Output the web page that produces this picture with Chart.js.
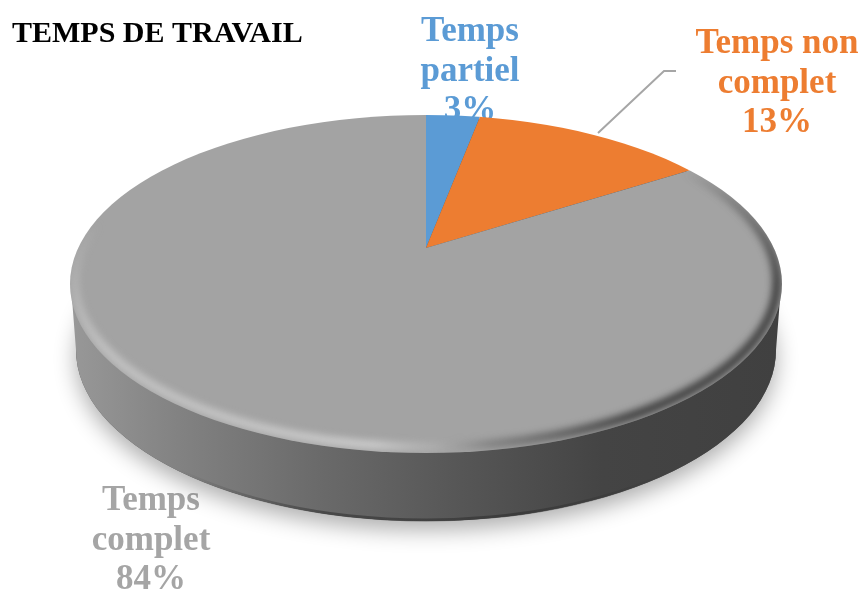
<!DOCTYPE html>
<html>
<head>
<meta charset="utf-8">
<style>
    html, body { margin: 0; padding: 0; background: #fff; }
    #wrap { width: 865px; height: 591px; overflow: hidden; }
</style>
</head>
<body>
<div id="wrap"><canvas id="pieChart" width="865" height="591"></canvas></div>
<script src="https://cdn.jsdelivr.net/npm/chart.js@4"></script>
<script>
// ======================
// DATA
// ======================
const chartTitle = "TEMPS DE TRAVAIL";
const categories = ["Temps partiel", "Temps non complet", "Temps complet"];
const values = [3, 13, 84];
const sliceColors = ["#5b9bd5", "#ed7d31", "#a3a3a3"];
const labelLines = [["Temps", "partiel"], ["Temps non", "complet"], ["Temps", "complet"]];
const labelColors = ["#5b9bd5", "#ed7d31", "#a5a5a5"];


// ======================
// 3D GEOMETRY
// ======================
const APEX_X = 426, APEX_Y = 248;
const PIE_RADIUS = 248;               // radius chart.js gets from the padding below
const SCALE_X = 453 / PIE_RADIUS;
const SCALE_Y = 210 / PIE_RADIUS;

const face = { x: 426, y: 284, rx: 356, ry: 169 };
const base = { x: 426, y: 350, rx: 350, ry: 171 };

const labelSpots = [
    { x: 470, y: 41 },
    { x: 777, y: 53 },
    { x: 151, y: 510 }
];
const LINE_GAP = 39.5;

function ellipsePath(ctx, e) {
    ctx.beginPath();
    ctx.ellipse(e.x, e.y, e.rx, e.ry, 0, 0, Math.PI * 2);
}

function drawTexts(ctx) {
    ctx.save();
    ctx.textBaseline = "alphabetic";

    ctx.fillStyle = "#000";
    ctx.textAlign = "left";
    ctx.font = "bold 30px 'Liberation Serif'";
    ctx.fillText(chartTitle, 12, 42);

    ctx.font = "bold 35px 'Liberation Serif'";
    ctx.textAlign = "center";
    categories.forEach((name, i) => {
        const lines = labelLines[i].concat(values[i] + "%");
        ctx.fillStyle = labelColors[i];
        lines.forEach((line, j) => {
            ctx.fillText(line, labelSpots[i].x, labelSpots[i].y + j * LINE_GAP);
        });
    });
    ctx.restore();

    // leader line of the orange label
    ctx.save();
    ctx.strokeStyle = "#a6a6a6";
    ctx.lineWidth = 2;
    ctx.beginPath();
    ctx.moveTo(598, 133);
    ctx.lineTo(664, 71);
    ctx.lineTo(676, 71);
    ctx.stroke();
    ctx.restore();
}

function drawSide(ctx) {
    // soft shadow under the disc
    ctx.save();
    ctx.shadowColor = "rgba(0,0,0,0.32)";
    ctx.shadowBlur = 22;
    ctx.shadowOffsetY = 9;
    ctx.fillStyle = "#555";
    ellipsePath(ctx, base);
    ctx.fill();
    ctx.restore();

    const grad = ctx.createLinearGradient(72, 0, 780, 0);
    grad.addColorStop(0, "#989898");
    grad.addColorStop(0.15, "#828282");
    grad.addColorStop(0.35, "#6a6a6a");
    grad.addColorStop(0.55, "#565656");
    grad.addColorStop(0.75, "#444444");
    grad.addColorStop(1, "#404040");

    ctx.save();
    ctx.fillStyle = grad;
    ctx.beginPath();
    ctx.ellipse(face.x, face.y + 2, face.rx - 1, face.ry, 0, Math.PI, Math.PI * 2);
    ctx.ellipse(base.x, base.y, base.rx, base.ry, 0, 0, Math.PI);
    ctx.closePath();
    ctx.fill();

    // darker lip at the foot of the side, only near the middle
    const lip = ctx.createLinearGradient(180, 0, 670, 0);
    lip.addColorStop(0, "rgba(40,40,40,0)");
    lip.addColorStop(0.3, "rgba(40,40,40,0.5)");
    lip.addColorStop(0.7, "rgba(40,40,40,0.5)");
    lip.addColorStop(1, "rgba(40,40,40,0)");
    ctx.beginPath();
    ctx.ellipse(base.x, base.y - 1, base.rx, base.ry, 0, 0.6, Math.PI - 0.6);
    ctx.strokeStyle = lip;
    ctx.lineWidth = 3;
    ctx.stroke();
    ctx.restore();
}

function drawRim(ctx) {
    ctx.save();
    ellipsePath(ctx, face);
    ctx.clip();

    // bevel colour goes round the disc: dark on the right, light on the left
    const rim = ctx.createConicGradient(0, face.x, face.y);
    rim.addColorStop(0, "rgba(55,55,55,0.9)");
    rim.addColorStop(0.09, "rgba(55,55,55,0.9)");
    rim.addColorStop(0.19, "rgba(110,110,110,0.6)");
    rim.addColorStop(0.245, "rgba(190,190,190,0.4)");
    rim.addColorStop(0.3, "rgba(210,210,210,0.85)");
    rim.addColorStop(0.47, "rgba(205,205,205,0.7)");
    rim.addColorStop(0.53, "rgba(205,205,205,0)");
    rim.addColorStop(0.935, "rgba(55,55,55,0)");
    rim.addColorStop(1, "rgba(55,55,55,0.9)");

    ctx.filter = "blur(3.5px)";
    ctx.strokeStyle = rim;
    ctx.lineWidth = 9;
    ctx.beginPath();
    ctx.ellipse(face.x, face.y - 2, face.rx - 5, face.ry - 4, 0, 0, Math.PI * 2);
    ctx.stroke();
    ctx.restore();
}


// ======================
// 3D PLUGIN
// ======================
const disc3d = {
    id: "disc3d",
    beforeDatasetsDraw(chart) {
        const ctx = chart.ctx;
        drawTexts(ctx);
        drawSide(ctx);

        // slices squashed around the apex and cut to the face
        ctx.save();
        ellipsePath(ctx, face);
        ctx.clip();
        ctx.translate(APEX_X, APEX_Y);
        ctx.scale(SCALE_X, SCALE_Y);
        ctx.translate(-APEX_X, -APEX_Y);
    },
    afterDatasetsDraw(chart) {
        const ctx = chart.ctx;
        ctx.restore();
        drawRim(ctx);
    }
};


// ======================
// CHART SETUP
// ======================
new Chart(document.getElementById("pieChart"), {
    type: "pie",
    plugins: [disc3d],
    data: {
        labels: categories,
        datasets: [{
            data: values,
            backgroundColor: sliceColors,
            borderWidth: 0
        }]
    },
    options: {
        responsive: false,
        animation: false,
        layout: { padding: { left: 178, right: 191, top: 0, bottom: 95 } },
        plugins: {
            legend: { display: false },
            title: { display: false },
            tooltip: { enabled: false }
        }
    }
});
</script>
</body>
</html>
